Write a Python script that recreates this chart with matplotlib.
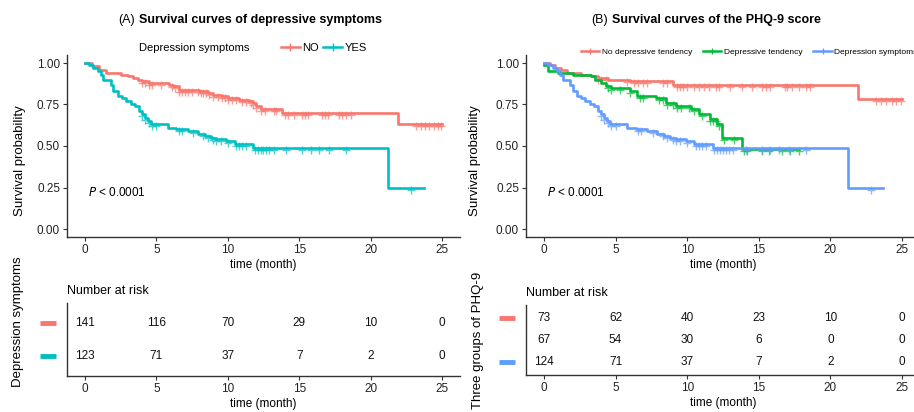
import matplotlib
matplotlib.use("Agg")
import matplotlib.pyplot as plt
from matplotlib.lines import Line2D
import numpy as np

plt.rcParams['font.family'] = ['Liberation Sans', 'DejaVu Sans']

RED = "#F8766D"
TEAL = "#00BFC4"
GREEN = "#00BA38"
BLUE = "#619CFF"

# ---- panel A: depression symptoms NO / YES ----
a_no_t = [0, 0.5, 1.0, 1.5, 2.5, 3.0, 3.4, 3.7, 4.0, 4.5, 5.9, 6.2, 6.6, 8.0, 8.6, 9.0, 9.6,
          10.0, 10.8, 11.5, 11.8, 12.0, 12.3, 13.8, 21.9, 25.0]
a_no_s = [1.0, 0.98, 0.96, 0.94, 0.93, 0.92, 0.91, 0.90, 0.89, 0.88, 0.87, 0.86, 0.84, 0.83, 0.82,
          0.81, 0.80, 0.79, 0.78, 0.77, 0.76, 0.74, 0.72, 0.70, 0.63, 0.63]
a_no_cens = [4.0, 4.2, 4.5, 4.7, 5.3, 6.1, 6.3, 6.6, 6.8, 7.0, 7.2, 7.5, 7.9, 8.1, 8.3, 8.5, 8.7,
             9.0, 9.3, 9.6, 9.8, 10.0, 10.3, 10.6, 11.0, 11.3, 11.6, 11.8, 12.0, 12.3, 12.6, 13.2,
             13.4, 14.0, 14.2, 14.6, 15.2, 15.4, 15.6, 16.6, 16.8, 17.0, 17.8, 18.0, 18.3, 18.6,
             23.2, 23.5, 23.8, 24.1, 24.4, 24.7, 24.9]

a_yes_t = [0, 0.3, 0.6, 0.9, 1.1, 1.3, 1.8, 2.0, 2.3, 2.6, 2.9, 3.2, 3.5, 3.8, 4.0, 4.2, 4.4, 4.6,
           5.8, 6.4, 7.2, 7.9, 8.4, 8.8, 9.2, 9.9, 10.5, 11.8, 21.2, 23.7]
a_yes_s = [1.0, 0.99, 0.97, 0.95, 0.93, 0.90, 0.87, 0.83, 0.80, 0.79, 0.77, 0.75, 0.74, 0.71, 0.69,
           0.67, 0.65, 0.63, 0.61, 0.60, 0.59, 0.57, 0.56, 0.55, 0.54, 0.53, 0.51, 0.49, 0.245, 0.245]
a_yes_cens = [4.0, 4.2, 4.5, 4.7, 5.0, 6.6, 6.8, 7.6, 8.3, 8.6, 9.0, 9.2, 9.5, 10.0, 10.6, 10.8,
              11.0, 11.3, 11.9, 12.1, 12.3, 12.5, 12.7, 12.9, 13.2, 14.1, 15.2, 15.8, 16.4, 17.1,
              18.3, 22.8]

a_risk_times = [0, 5, 10, 15, 20, 25]
a_risk_no = [141, 116, 70, 29, 10, 0]
a_risk_yes = [123, 71, 37, 7, 2, 0]

# ---- panel B: three PHQ-9 groups ----
b_none_t = [0, 0.4, 0.8, 1.2, 1.6, 2.6, 3.3, 3.8, 4.5, 6.0, 9.0, 21.9, 25.0]
b_none_s = [1.0, 0.99, 0.97, 0.96, 0.94, 0.93, 0.92, 0.91, 0.90, 0.89, 0.87, 0.785, 0.785]
b_none_cens = [3.8, 4.0, 4.3, 5.8, 6.3, 6.6, 6.9, 7.2, 8.3, 8.6, 9.3, 9.5, 9.7, 10.0, 10.5, 10.8,
               11.2, 11.5, 12.0, 12.2, 13.0, 13.8, 14.5, 15.2, 15.5, 15.8, 16.8, 17.0, 17.3, 17.8,
               18.3, 18.6, 23.2, 23.5, 23.9, 24.3, 24.6, 24.9]

b_tend_t = [0, 0.3, 1.0, 2.0, 3.3, 3.6, 4.0, 4.3, 4.7, 6.0, 6.5, 7.8, 8.5, 9.2, 10.3, 10.8, 11.6,
            12.1, 12.4, 13.8, 17.8]
b_tend_s = [0.99, 0.95, 0.94, 0.93, 0.92, 0.90, 0.88, 0.86, 0.85, 0.83, 0.80, 0.79, 0.76, 0.74,
            0.72, 0.69, 0.66, 0.63, 0.55, 0.48, 0.48]
b_tend_cens = [4.5, 4.7, 5.3, 6.0, 6.7, 6.9, 8.0, 8.3, 8.6, 9.0, 9.3, 9.6, 10.1, 10.5, 11.0, 11.6,
               11.8, 12.0, 12.2, 12.6, 13.3, 14.0, 14.2, 15.2, 15.7, 16.6, 17.2, 17.8]

b_symp_t = a_yes_t
b_symp_s = a_yes_s
b_symp_cens = [4.0, 4.2, 4.5, 4.7, 5.0, 6.6, 6.8, 7.6, 8.3, 8.6, 9.0, 9.2, 9.5, 10.0, 10.6, 10.8,
               11.0, 11.3, 11.9, 12.1, 12.3, 12.5, 12.7, 12.9, 13.2, 14.1, 15.2, 15.8, 16.4, 17.1,
               18.3, 22.8]

b_risk_none = [73, 62, 40, 23, 10, 0]
b_risk_tend = [67, 54, 30, 6, 0, 0]
b_risk_symp = [124, 71, 37, 7, 2, 0]

W, H = 914, 412
fig = plt.figure(figsize=(W / 100, H / 100), dpi=100)

def px_axes(x0, y0, x1, y1):
    return fig.add_axes([x0 / W, 1 - y1 / H, (x1 - x0) / W, (y1 - y0) / H])

def style(ax):
    for s in ['top', 'right']:
        ax.spines[s].set_visible(False)
    for s in ['left', 'bottom']:
        ax.spines[s].set_color('#333333')
        ax.spines[s].set_linewidth(1.0)
    ax.tick_params(length=3, width=0.8, color='#333333', labelsize=8.5, labelcolor='#222222', pad=2)

def km(ax, t, s, cens, color):
    ax.step(t, s, where='post', color=color, lw=1.9)
    t = np.asarray(t)
    idx = np.searchsorted(t, cens, side='right') - 1
    ax.plot(cens, np.asarray(s)[idx] - 0.012, ls='none', marker='+', ms=5.5, mew=1.0, color=color, alpha=0.7)

def main_panel(ax, x_lab):
    style(ax)
    ax.set_xlim(-1.25, 26.25)
    ax.set_ylim(-0.05, 1.05)
    ax.set_xticks([0, 5, 10, 15, 20, 25])
    ax.set_yticks([0, 0.25, 0.5, 0.75, 1.0])
    ax.set_yticklabels(['0.00', '0.25', '0.50', '0.75', '1.00'])
    ax.set_xlabel('time (month)', fontsize=8.5, labelpad=2)
    ax.set_ylabel('Survival probability', fontsize=9.5)
    ax.yaxis.set_label_coords(x_lab, 0.418)
    ax.text(0.2, 0.22, r'$\it{P}$ < 0.0001', fontsize=8.5, ha='left', va='center')

def risk_panel(ax, rows, colors, ylabel, lab_y, lab_x):
    style(ax)
    n = len(rows)
    ax.set_xlim(-1.25, 26.25)
    ax.set_ylim(0.4, n + 0.6)
    ax.set_xticks(a_risk_times)
    ax.set_yticks([])
    ax.tick_params(axis='y', length=0)
    for i, vals in enumerate(rows):
        yy = n - i
        for x, v in zip(a_risk_times, vals):
            ax.text(x, yy, str(v), ha='center', va='center', fontsize=8.5, color='#111111')
        if colors[i] is not None:
            ax.plot([-0.069, -0.028], [yy, yy], color=colors[i], lw=3.5, clip_on=False,
                    transform=ax.get_yaxis_transform(), solid_capstyle='butt')
    ax.set_xlabel('time (month)', fontsize=8.5, labelpad=2)
    ax.set_ylabel(ylabel, fontsize=9.5)
    ax.yaxis.set_label_coords(lab_x, lab_y)
    ax.text(0.0, 1.08, 'Number at risk', transform=ax.transAxes, fontsize=9, ha='left', va='bottom')

# panel A
axA = px_axes(67, 54.7, 460, 237.3)
main_panel(axA, -0.104)
km(axA, a_no_t, a_no_s, a_no_cens, RED)
km(axA, a_yes_t, a_yes_s, a_yes_cens, TEAL)
fig.text(135 / W, 1 - 20 / H, '(A)', ha='right', va='center', fontsize=9)
fig.text(139 / W, 1 - 20 / H, 'Survival curves of depressive symptoms', ha='left', va='center',
         fontsize=9, fontweight='bold')
fig.text(139 / W, 1 - 48 / H, 'Depression symptoms', ha='left', va='center', fontsize=8)
hA = [Line2D([], [], color=RED, lw=1.8, marker='+', ms=6, mew=1),
      Line2D([], [], color=TEAL, lw=1.8, marker='+', ms=6, mew=1)]
fig.legend(hA, ['NO', 'YES'], loc='center left', bbox_to_anchor=(281 / W, 1 - 48 / H), ncol=2,
           frameon=False, fontsize=8, handlelength=1.7, handletextpad=0.2, columnspacing=0.4,
           borderpad=0, borderaxespad=0)

tA = px_axes(67, 303.2, 460, 375.8)
risk_panel(tA, [a_risk_no, a_risk_yes], [RED, TEAL], 'Depression symptoms', 0.74, -0.109)

# panel B
axB = px_axes(526, 54.7, 920, 237.3)
main_panel(axB, -0.114)
km(axB, b_none_t, b_none_s, b_none_cens, RED)
km(axB, b_tend_t, b_tend_s, b_tend_cens, GREEN)
km(axB, b_symp_t, b_symp_s, b_symp_cens, BLUE)
fig.text(608 / W, 1 - 20 / H, '(B)', ha='right', va='center', fontsize=9)
fig.text(612 / W, 1 - 20 / H, 'Survival curves of the PHQ-9 score', ha='left', va='center',
         fontsize=9, fontweight='bold')
hB = [Line2D([], [], color=c, lw=1.8, marker='+', ms=5, mew=0.9) for c in (RED, GREEN, BLUE)]
fig.legend(hB, ['No depressive tendency', 'Depressive tendency', 'Depression symptoms'],
           loc='center left', bbox_to_anchor=(581 / W, 1 - 52 / H), ncol=3, frameon=False,
           fontsize=6, handlelength=2.2, handletextpad=0.3, columnspacing=1.3,
           borderpad=0, borderaxespad=0)

tB = px_axes(526, 304.8, 920, 375.2)
risk_panel(tB, [b_risk_none, b_risk_tend, b_risk_symp], [RED, None, BLUE], 'Three groups of PHQ-9',
           0.5, -0.107)

fig.savefig('out.png', dpi=100)
